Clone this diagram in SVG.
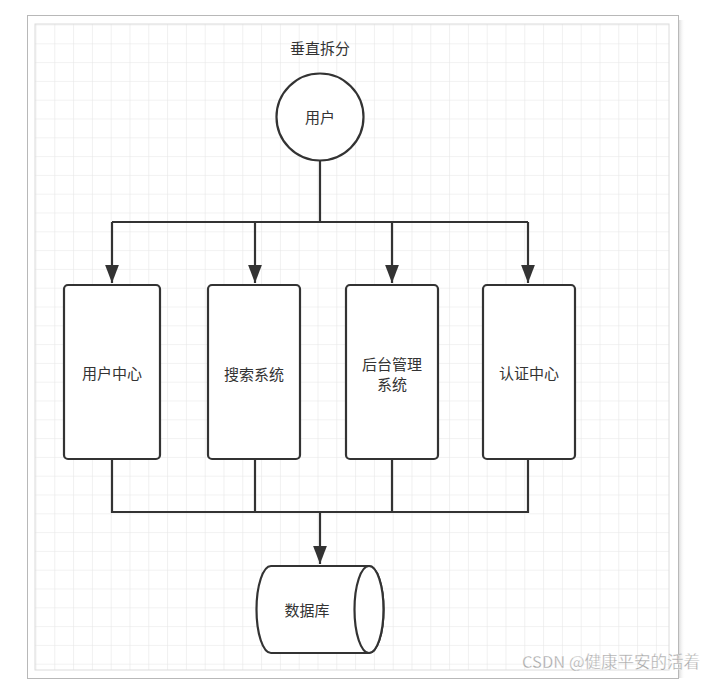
<svg xmlns="http://www.w3.org/2000/svg" width="716" height="680" viewBox="0 0 716 680">
<defs>
<style>
.ln{fill:none;stroke:#333;stroke-width:2.2;stroke-linejoin:miter}
.nd{fill:#fff;stroke:#333;stroke-width:2.2}
.tx{font-family:"Noto Sans CJK SC","Liberation Sans",sans-serif;font-size:15px;fill:#333;text-anchor:middle;dominant-baseline:central}
</style>
<pattern id="grid" patternUnits="userSpaceOnUse" x="35.5" y="24.5" width="18.8" height="18.8">
<path d="M0,0 H18.8 M0,0 V18.8" fill="none" stroke="#e6e6e6" stroke-width="1.2"/>
</pattern>
<marker id="arr" markerUnits="userSpaceOnUse" markerWidth="18" markerHeight="14" refX="17" refY="6.5" orient="auto" viewBox="0 0 17 13">
<path d="M0,0 L17,6.5 L0,13 Z" fill="#333"/>
</marker>
<linearGradient id="sh" x1="0" x2="1">
<stop offset="0" stop-color="#d0d0d0"/><stop offset="1" stop-color="#fff" stop-opacity="0"/>
</linearGradient>
</defs>
<rect width="716" height="680" fill="#fff"/>
<rect x="678" y="20" width="7" height="658" fill="url(#sh)"/>
<rect x="27.5" y="15.5" width="651" height="663" fill="#fff" stroke="#b8b8b8" stroke-width="1"/>
<rect x="35" y="24" width="634" height="646" fill="url(#grid)" stroke="#dcdcdc" stroke-width="1"/>
<text class="tx" x="320" y="47">垂直拆分</text>
<g id="connectors">
<path class="ln" d="M320,161 V222 M112,222 H528"/>
<path class="ln" d="M112,222 V283" marker-end="url(#arr)"/>
<path class="ln" d="M255,222 V283" marker-end="url(#arr)"/>
<path class="ln" d="M392,222 V283" marker-end="url(#arr)"/>
<path class="ln" d="M528,222 V283" marker-end="url(#arr)"/>
<path class="ln" d="M112,459 V512 H528 V459 M255,459 V512 M392,459 V512"/>
<path class="ln" d="M320,512 V564" marker-end="url(#arr)"/>
</g>
<g id="user">
<circle class="nd" cx="320" cy="117" r="43.5"/>
<text class="tx" x="320" y="116">用户</text>
</g>
<g id="user-center">
<rect class="nd" x="64" y="285" width="96" height="174" rx="4"/>
<text class="tx" x="112" y="372">用户中心</text>
</g>
<g id="search">
<rect class="nd" x="208" y="285" width="92" height="174" rx="4"/>
<text class="tx" x="254" y="373">搜索系统</text>
</g>
<g id="admin">
<rect class="nd" x="346" y="285" width="92" height="174" rx="4"/>
<text class="tx" x="392" y="363">后台管理</text>
<text class="tx" x="392" y="383">系统</text>
</g>
<g id="auth">
<rect class="nd" x="483" y="285" width="92" height="174" rx="4"/>
<text class="tx" x="529" y="372">认证中心</text>
</g>
<g id="database">
<path class="nd" d="M271,566 L369,566 A14.5,43.5 0 0 1 369,653 L271,653 A14.5,43.5 0 0 1 271,566 Z"/>
<ellipse class="nd" cx="369" cy="609.5" rx="14.5" ry="43.5"/>
<text class="tx" x="307" y="609">数据库</text>
</g>
<text x="522" y="668" font-family="'Noto Sans CJK SC','Liberation Sans',sans-serif" font-size="16.5" fill="#a8a8a8" stroke="#fff" stroke-width="0.3">CSDN @健康平安的活着</text>
</svg>
